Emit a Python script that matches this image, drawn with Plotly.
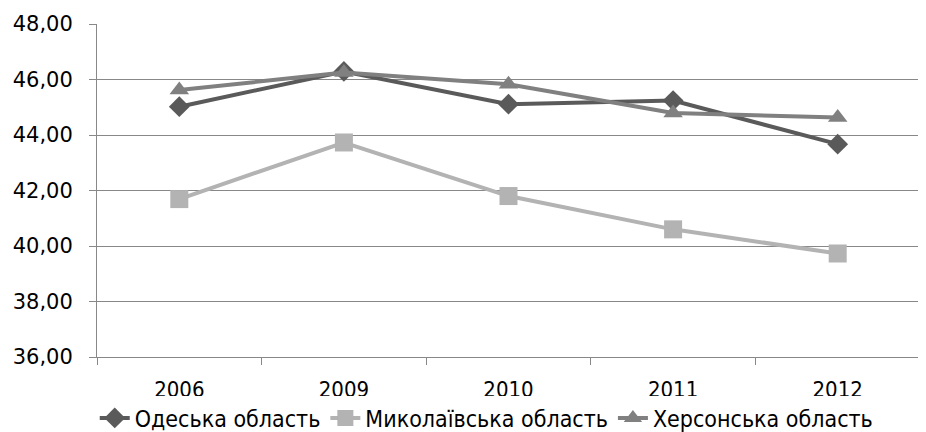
import plotly.graph_objects as go

years = ["2006", "2009", "2010", "2011", "2012"]
odesa = [45.02, 46.29, 45.11, 45.24, 43.67]
mykolaiv = [41.69, 43.73, 41.80, 40.60, 39.73]
kherson = [45.62, 46.25, 45.83, 44.79, 44.63]

names = ["Одеська область", "Миколаївська область", "Херсонська область"]
colors = ["#5a5a5a", "#b3b3b3", "#808080"]
symbols = ["diamond", "square", "triangle-up"]
sizes = [16, 18, 17]

fig = go.Figure()
for vals, name, c, s, sz in zip([odesa, mykolaiv, kherson], names, colors, symbols, sizes):
    fig.add_trace(go.Scatter(
        x=years, y=vals, name=name, mode="lines+markers",
        line=dict(color=c, width=4),
        marker=dict(symbol=s, size=sz, color=c),
    ))

fig.update_layout(
    width=926, height=432,
    margin=dict(l=89, r=14, t=16, b=83, autoexpand=False),
    paper_bgcolor="white", plot_bgcolor="white",
    separators=", ",
    showlegend=True,
    legend=dict(orientation="h", xref="container", yref="container",
                x=0.517, xanchor="center", y=0.051, yanchor="middle",
                font=dict(family="DejaVu Sans Condensed", size=23, color="#000000"),
                tracegroupgap=0),
    font=dict(family="DejaVu Sans", color="#000000"),
)
fig.update_xaxes(
    type="category", range=[-0.5, 4.5], tickson="boundaries", ticks="outside", ticklen=7,
    tickcolor="#888888", showline=True, linecolor="#888888", linewidth=1,
    showgrid=False, ticklabelstandoff=13, automargin=False,
    tickfont=dict(family="DejaVu Sans Condensed", size=22, color="#000000"),
)
fig.update_yaxes(
    range=[36, 48], dtick=2, tickformat=".2f", ticks="outside", ticklen=7,
    tickcolor="#888888", showline=True, linecolor="#888888", linewidth=1,
    showgrid=True, gridcolor="#888888", gridwidth=1, zeroline=False,
    ticklabelstandoff=12, automargin=False,
    tickfont=dict(family="DejaVu Sans", size=21, color="#000000"),
)

fig.write_html("out.html")
